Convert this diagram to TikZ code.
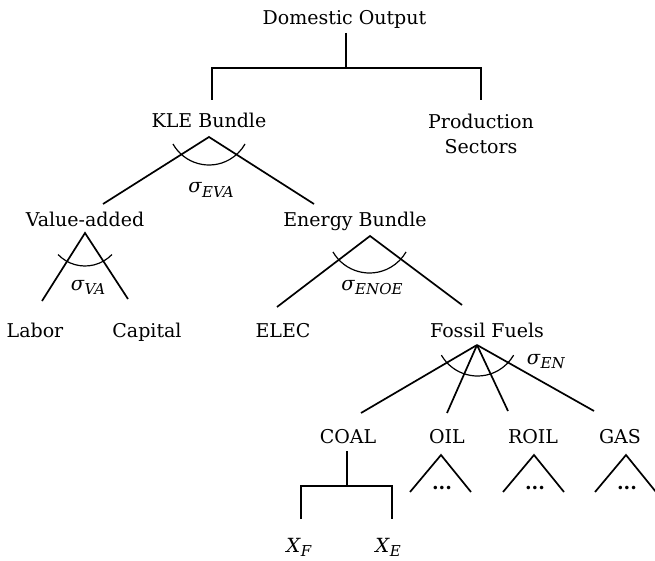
\documentclass[tikz,border=0pt]{standalone}
\usepackage{fontspec}
\setmainfont{DejaVu Serif}
\newcommand{\sigl}[2]{\textit{#1}\raisebox{-4.5pt}{\fontsize{15}{15}\selectfont\textit{#2}}}
\begin{document}
\begin{tikzpicture}[x=1pt,y=-1pt,
  lbl/.style={inner sep=0pt, anchor=base, font=\fontsize{19}{25}\selectfont},
  sig/.style={inner sep=0pt, anchor=base, font=\fontsize{19.5}{25}\selectfont},
  ln/.style={line width=1.7pt, line cap=butt},
  arcln/.style={line width=1.2pt}]
\useasboundingbox (0,0) rectangle (655,561);
% text nodes
\node[lbl] (dom) at (344.5,25) {Domestic Output};
\node[lbl] (kle) at (209,128) {KLE Bundle};
\node[lbl, anchor=north, align=center] (prod) at (481,114) {Production\\Sectors};
\node[lbl] (va) at (85,226) {Value-added};
\node[lbl] (eb) at (355,226) {Energy Bundle};
\node[lbl] (lab) at (35,337) {Labor};
\node[lbl] (cap) at (147,337) {Capital};
\node[lbl] (elec) at (283,337) {ELEC};
\node[lbl] (ff) at (487,337) {Fossil Fuels};
\node[lbl] (coal) at (348,443) {COAL};
\node[lbl] (oil) at (447,443) {OIL};
\node[lbl] (roil) at (533,443) {ROIL};
\node[lbl] (gas) at (620,443) {GAS};
\node[sig] (xf) at (299,552) {\sigl{X}{F}};
\node[sig] (xe) at (388,552) {\sigl{X}{E}};
% sigma labels
\node[sig] (seva) at (211,193) {\sigl{σ}{EVA}};
\node[sig] (sva) at (88,290) {\sigl{σ}{VA}};
\node[sig] (senoe) at (372,290) {\sigl{σ}{ENOE}};
\node[sig] (sen) at (546,364) {\sigl{σ}{EN}};
% top bracket
\coordinate (d0) at (346,33);
\coordinate (d1) at (346,68);
\coordinate (dl) at (212,68);
\coordinate (dr) at (481,68);
\coordinate (dlb) at (212,100);
\coordinate (drb) at (481,100);
\draw[ln] (d0) -- (d1);
\draw[ln] (dlb) -- (dl) -- (dr) -- (drb);
% KLE
\coordinate (kleA) at (209,137);
\coordinate (kleL) at (103,204);
\coordinate (kleR) at (314,204);
\draw[ln] (kleL) -- (kleA) -- (kleR);
\draw[arcln] (209,123.6) ++(150.5:41.4) arc[start angle=150.5, end angle=29.5, radius=41.4];
% Value-added
\coordinate (vaA) at (85,233);
\coordinate (vaL) at (42,301);
\coordinate (vaR) at (128,299);
\draw[ln] (vaL) -- (vaA) -- (vaR);
\draw[arcln] (85,228.6) ++(136:37.4) arc[start angle=136, end angle=44, radius=37.4];
% Energy bundle
\coordinate (ebA) at (370,236);
\coordinate (ebL) at (277,307);
\coordinate (ebR) at (462,305);
\draw[ln] (ebL) -- (ebA) -- (ebR);
\draw[arcln] (369.5,230.8) ++(150:42.2) arc[start angle=150, end angle=30, radius=42.2];
% Fossil fuels
\coordinate (ffA) at (477,345);
\coordinate (ffC) at (361,413);
\coordinate (ffO) at (447,413);
\coordinate (ffR) at (508,411);
\coordinate (ffG) at (594,411);
\draw[ln] (ffA) -- (ffC);
\draw[ln] (ffA) -- (ffO);
\draw[ln] (ffA) -- (ffR);
\draw[ln] (ffA) -- (ffG);
\draw[arcln] (477.5,334.3) ++(150:41.7) arc[start angle=150, end angle=30, radius=41.7];
% COAL bracket
\coordinate (c0) at (347,451);
\coordinate (c1) at (347,486);
\coordinate (cl) at (301,486);
\coordinate (cr) at (392,486);
\coordinate (clb) at (301,519);
\coordinate (crb) at (392,519);
\draw[ln] (c0) -- (c1);
\draw[ln] (clb) -- (cl) -- (cr) -- (crb);
% small triangles
\foreach \n/\cx in {o/441, r/534, g/626}{
  \coordinate (t\n A) at (\cx,455);
  \coordinate (t\n L) at (\cx-31,492);
  \coordinate (t\n R) at (\cx+30,492);
  \draw[ln] (t\n L) -- (t\n A) -- (t\n R);
  \node[lbl] (dots\n) at (\cx+1,489) {\textbf{...}};
}
\end{tikzpicture}
\end{document}
